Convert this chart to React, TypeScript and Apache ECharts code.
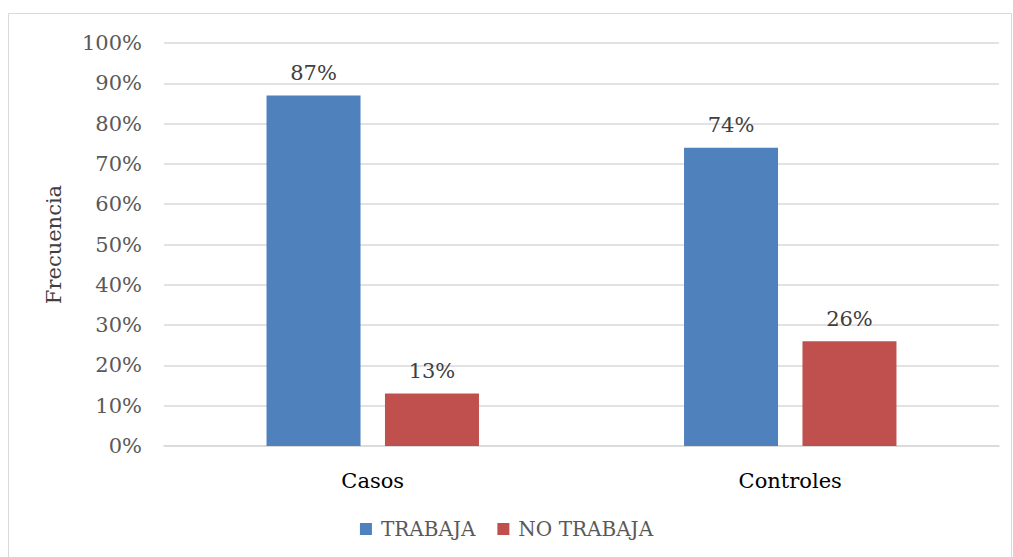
import React, { useEffect, useRef } from "react";
import * as echarts from "echarts";

const categories = ["Casos", "Controles"];
const trabaja = [87, 74];
const noTrabaja = [13, 26];
const seriesNames = ["TRABAJA", "NO TRABAJA"];

const FONT = "DejaVu Serif";

export default function App() {
  const ref = useRef<HTMLDivElement>(null);
  useEffect(() => {
    if (!ref.current) return;
    const chart = echarts.init(ref.current, undefined, { renderer: "svg" });
    const label = {
      show: true,
      position: "top",
      distance: 12,
      formatter: "{c}%",
      color: "#404040",
      fontFamily: FONT,
      fontSize: 21,
    };
    chart.setOption({
      animation: false,
      backgroundColor: "#ffffff",
      graphic: [
        {
          type: "rect",
          shape: { x: 8.5, y: 13.5, width: 1003, height: 560 },
          style: { fill: "none", stroke: "#d9d9d9", lineWidth: 1 },
        },
      ],
      grid: { left: 164, right: 14, top: 43, bottom: 111 },
      legend: {
        bottom: 13,
        left: "center",
        itemWidth: 12,
        itemHeight: 12,
        itemGap: 22,
        icon: "rect",
        textStyle: {
          fontFamily: FONT,
          fontSize: 20,
          color: "#595959",
          padding: [0, 0, 0, 4],
        },
        data: seriesNames,
      },
      xAxis: {
        type: "category",
        data: categories,
        axisLine: { show: true, lineStyle: { color: "#d9d9d9", width: 1.5 } },
        axisTick: { show: false },
        axisLabel: { margin: 24, fontFamily: FONT, fontSize: 21, color: "#000000" },
      },
      yAxis: {
        type: "value",
        min: 0,
        max: 100,
        interval: 10,
        name: "Frecuencia",
        nameLocation: "middle",
        nameGap: 100,
        nameTextStyle: { fontFamily: FONT, fontSize: 21, color: "#404040" },
        axisLabel: {
          formatter: "{value}%",
          margin: 22,
          fontFamily: FONT,
          fontSize: 21,
          color: "#595959",
        },
        splitLine: { lineStyle: { color: "#d9d9d9", width: 1.5 } },
        axisLine: { show: false },
        axisTick: { show: false },
      },
      series: [
        {
          name: seriesNames[0],
          type: "bar",
          data: trabaja,
          barWidth: 94,
          barGap: "26%",
          itemStyle: { color: "#4F81BD" },
          label,
        },
        {
          name: seriesNames[1],
          type: "bar",
          data: noTrabaja,
          barWidth: 94,
          barGap: "26%",
          itemStyle: { color: "#C0504D" },
          label,
        },
      ],
    });
    return () => chart.dispose();
  }, []);
  return (
    <div
      ref={ref}
      style={{ position: "absolute", left: 0, top: 0, width: 1013, height: 557 }}
    />
  );
}
